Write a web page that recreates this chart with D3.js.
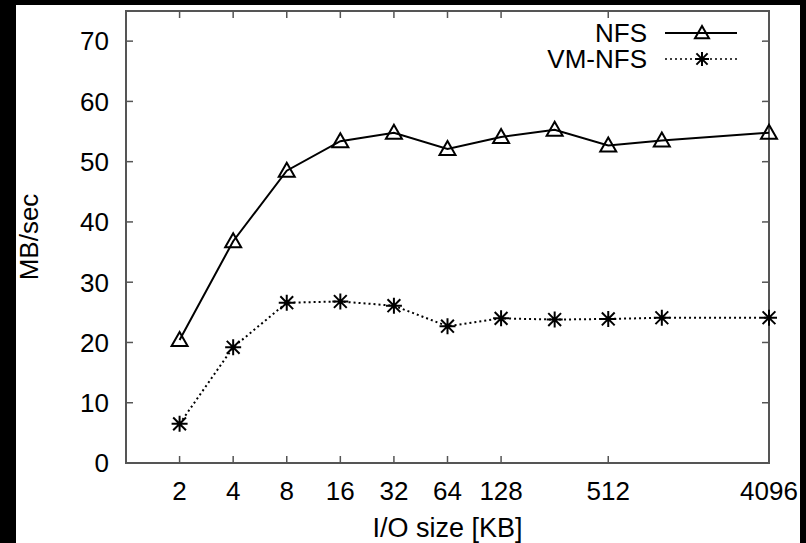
<!DOCTYPE html>
<html>
<head>
<meta charset="utf-8">
<script src="https://cdn.jsdelivr.net/npm/d3@7"></script>
<style>
  body { margin: 0; background: #000; }
  text { font-family: "Liberation Sans", Arial, sans-serif; fill: #000; }
</style>
</head>
<body>
<div id="chart"></div>
<script>
// I/O sizes in KB
var sizes = [2, 4, 8, 16, 32, 64, 128, 256, 512, 1024, 4096];
var nfs = [20.4, 36.8, 48.5, 53.4, 54.8, 52.1, 54.1, 55.3, 52.7, 53.5, 54.8];
var vmNfs = [6.5, 19.2, 26.6, 26.8, 26.1, 22.7, 24.0, 23.8, 23.9, 24.1, 24.1];
var xTicks = [2, 4, 8, 16, 32, 64, 128, 512, 4096];
var yTicks = [0, 10, 20, 30, 40, 50, 60, 70];

var W = 806, H = 543;
var pLeft = 126, pRight = 769, pTop = 11, pBottom = 463;
var fontSize = "26px";

var svg = d3.select("#chart").append("svg")
    .attr("width", W)
    .attr("height", H);

// black frame with white page
svg.append("rect").attr("width", W).attr("height", H).attr("fill", "#000");
svg.append("rect").attr("x", 16).attr("y", 5).attr("width", 784).attr("height", H - 5).attr("fill", "#fff");

var x = d3.scaleLog().base(2).domain([1, 4096]).range([pLeft, pRight]);
var y = d3.scaleLinear().domain([0, 75]).range([pBottom, pTop]);

var axisColor = "#555";

// ticks (inward, mirrored)
var g = svg.append("g");
xTicks.forEach(function(t) {
    g.append("line").attr("x1", x(t)).attr("x2", x(t)).attr("y1", pBottom).attr("y2", pBottom - 7)
        .attr("stroke", axisColor).attr("stroke-width", 1.5);
    g.append("line").attr("x1", x(t)).attr("x2", x(t)).attr("y1", pTop).attr("y2", pTop + 7)
        .attr("stroke", axisColor).attr("stroke-width", 1.5);
    g.append("text").attr("x", x(t)).attr("y", pBottom + 37)
        .attr("text-anchor", "middle").style("font-size", fontSize).text(t);
});
yTicks.forEach(function(t) {
    g.append("line").attr("x1", pLeft).attr("x2", pLeft + 7).attr("y1", y(t)).attr("y2", y(t))
        .attr("stroke", axisColor).attr("stroke-width", 1.5);
    g.append("line").attr("x1", pRight).attr("x2", pRight - 7).attr("y1", y(t)).attr("y2", y(t))
        .attr("stroke", axisColor).attr("stroke-width", 1.5);
    g.append("text").attr("x", pLeft - 17).attr("y", y(t)).attr("dy", "0.36em")
        .attr("text-anchor", "end").style("font-size", fontSize).text(t);
});

// border
svg.append("rect").attr("x", pLeft).attr("y", pTop).attr("width", pRight - pLeft).attr("height", pBottom - pTop)
    .attr("fill", "none").attr("stroke", axisColor).attr("stroke-width", 2);

// axis titles
svg.append("text").attr("x", (pLeft + pRight) / 2).attr("y", 537)
    .attr("text-anchor", "middle").style("font-size", "27px").text("I/O size [KB]");
svg.append("text").attr("transform", "translate(38," + ((pTop + pBottom) / 2) + ") rotate(-90)")
    .attr("text-anchor", "middle").style("font-size", fontSize).text("MB/sec");

function triangle(sel, cx, cy, s) {
    sel.append("path")
        .attr("d", "M" + cx + "," + (cy - s) + "L" + (cx + s) + "," + (cy + s * 0.75) + "L" + (cx - s) + "," + (cy + s * 0.75) + "Z")
        .attr("fill", "none").attr("stroke", "#000").attr("stroke-width", 2);
}
function star(sel, cx, cy, s) {
    var d = "M" + (cx - s) + "," + cy + "L" + (cx + s) + "," + cy +
            "M" + cx + "," + (cy - s) + "L" + cx + "," + (cy + s) +
            "M" + (cx - s * 0.8) + "," + (cy - s * 0.8) + "L" + (cx + s * 0.8) + "," + (cy + s * 0.8) +
            "M" + (cx - s * 0.8) + "," + (cy + s * 0.8) + "L" + (cx + s * 0.8) + "," + (cy - s * 0.8);
    sel.append("path").attr("d", d).attr("stroke", "#000").attr("stroke-width", 2);
}

var line = d3.line().x(function(d) { return x(d[0]); }).y(function(d) { return y(d[1]); });

var nfsData = sizes.map(function(s, i) { return [s, nfs[i]]; });
var vmData = sizes.map(function(s, i) { return [s, vmNfs[i]]; });

svg.append("path").datum(nfsData).attr("d", line)
    .attr("fill", "none").attr("stroke", "#000").attr("stroke-width", 2);
svg.append("path").datum(vmData).attr("d", line)
    .attr("fill", "none").attr("stroke", "#000").attr("stroke-width", 2).attr("stroke-dasharray", "2,3");

var marks = svg.append("g");
nfsData.forEach(function(d) { triangle(marks, x(d[0]), y(d[1]), 8); });
vmData.forEach(function(d) { star(marks, x(d[0]), y(d[1]), 8); });

// legend
var leg = svg.append("g");
leg.append("text").attr("x", 647).attr("y", 33).attr("dy", "0.36em")
    .attr("text-anchor", "end").style("font-size", fontSize).text("NFS");
leg.append("line").attr("x1", 665).attr("x2", 737).attr("y1", 33).attr("y2", 33)
    .attr("stroke", "#000").attr("stroke-width", 2);
triangle(leg, 702, 33, 7);
leg.append("text").attr("x", 647).attr("y", 59).attr("dy", "0.36em")
    .attr("text-anchor", "end").style("font-size", fontSize).text("VM-NFS");
leg.append("line").attr("x1", 665).attr("x2", 737).attr("y1", 59).attr("y2", 59)
    .attr("stroke", "#000").attr("stroke-width", 1.5).attr("stroke-dasharray", "2,3");
star(leg, 702, 59, 7);
</script>
</body>
</html>
